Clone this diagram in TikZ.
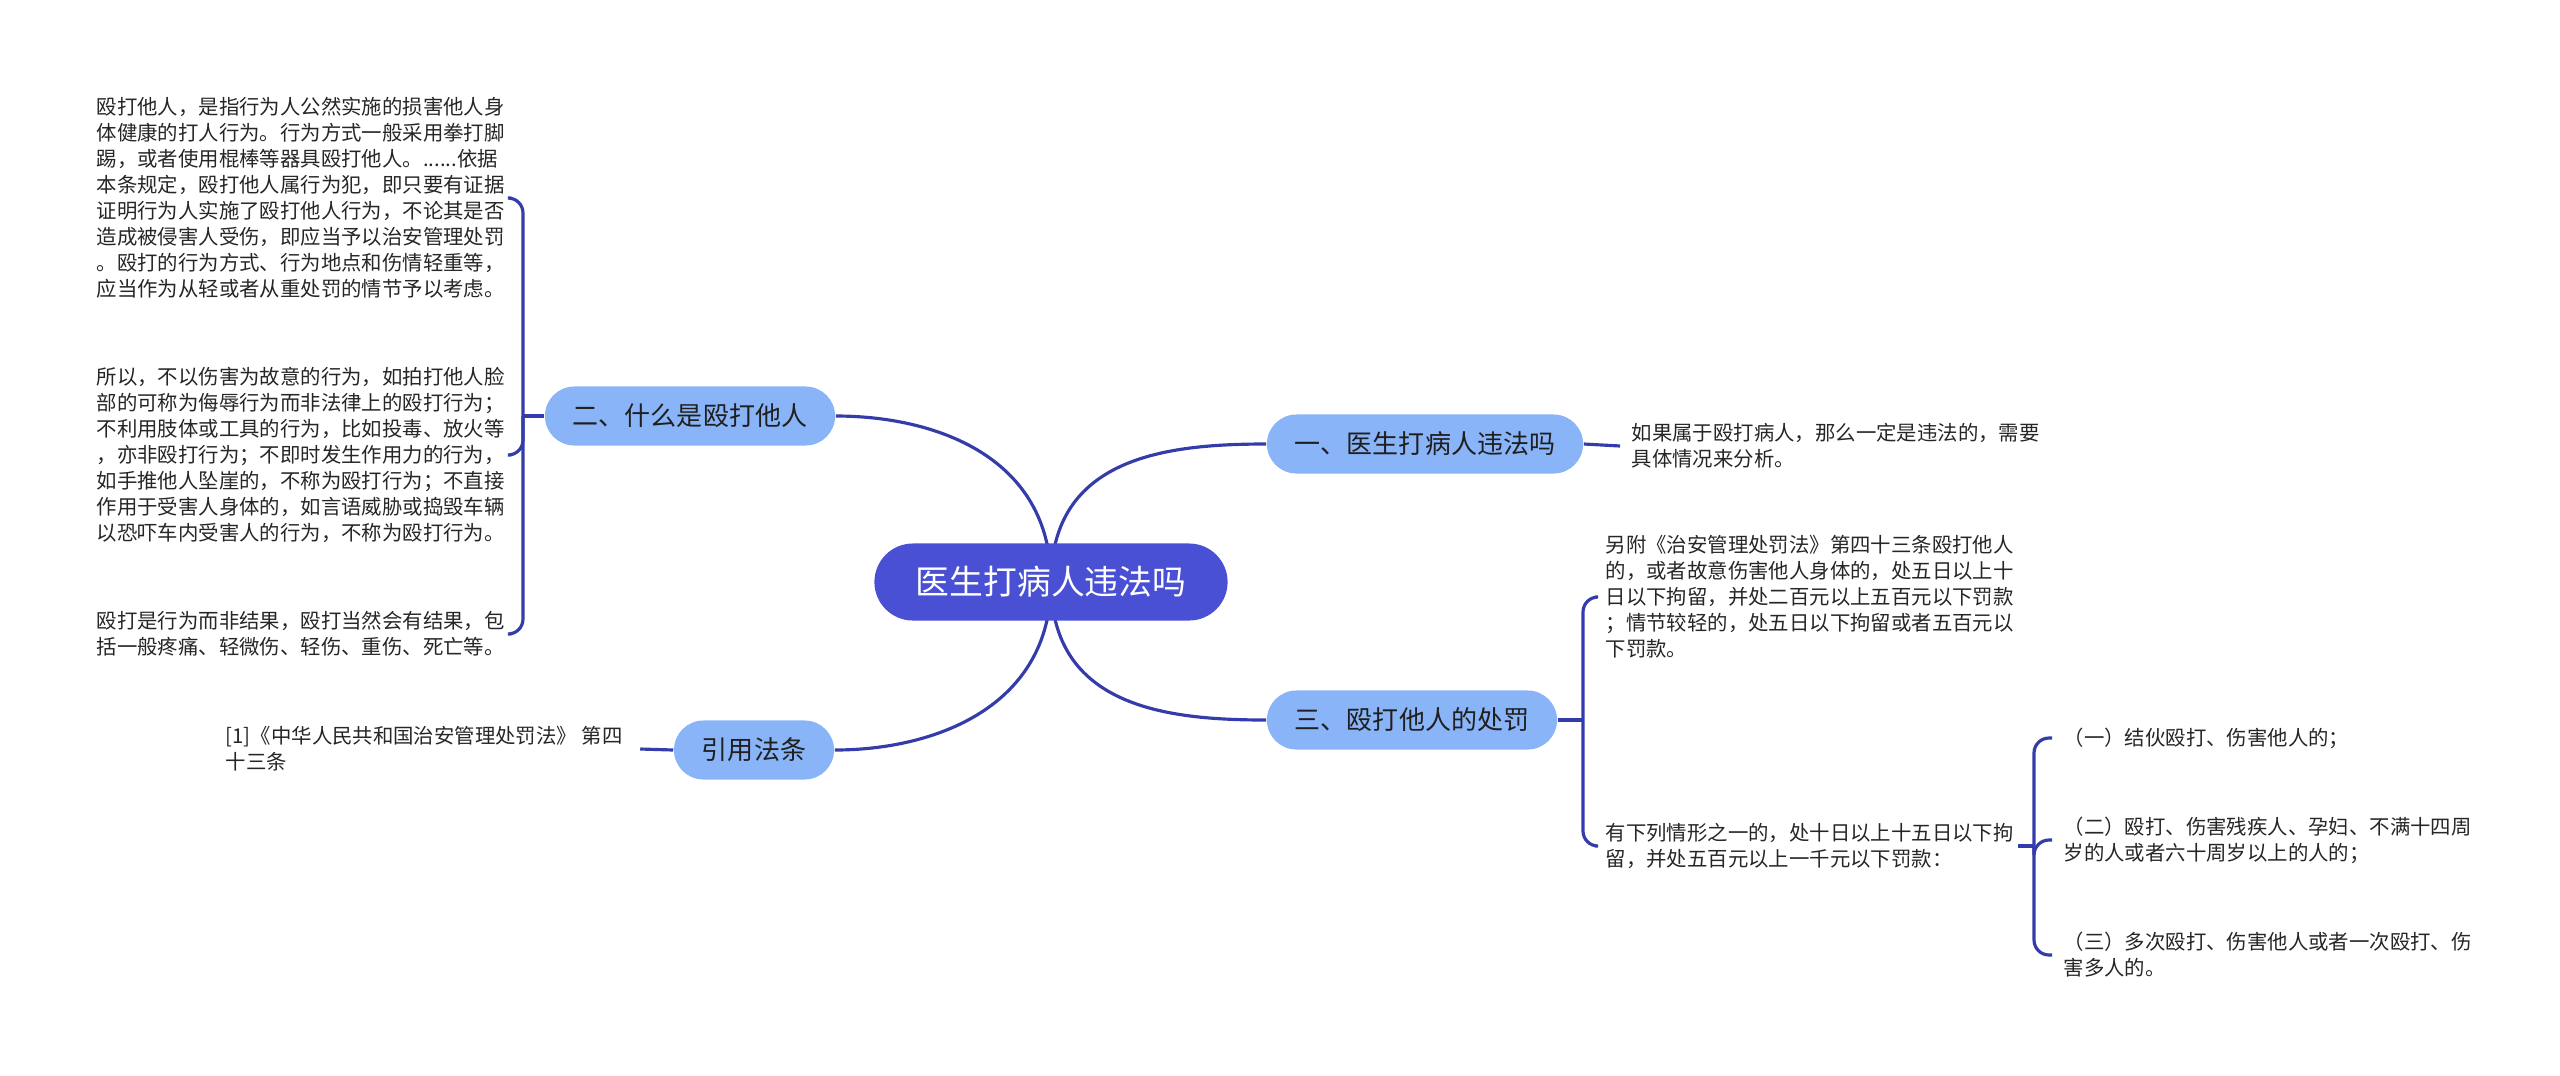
\documentclass[tikz,border=0pt]{standalone}
\usepackage{fontspec}
\setmainfont{Noto Sans CJK SC}
\usetikzlibrary{backgrounds}
\definecolor{hubblue}{RGB}{74,80,212}
\definecolor{topicblue}{RGB}{138,180,248}
\definecolor{lineblue}{RGB}{52,60,170}
\definecolor{notegray}{RGB}{38,38,38}

\begin{document}
\begin{tikzpicture}[x=0.01cm, y=-0.01cm,
  hub/.style={fill=hubblue, text=white, rounded corners=0.385cm, minimum height=0.77cm,
              minimum width=3.53cm, inner sep=0pt, font=\fontsize{9.6pt}{11pt}\selectfont},
  topic/.style={fill=topicblue, text=black!88, rounded corners=0.295cm, minimum height=0.59cm,
                inner xsep=0.28cm, inner ysep=0pt, font=\fontsize{7.4pt}{9pt}\selectfont},
  note/.style={anchor=west, align=left, inner sep=0pt, text=notegray,
               font=\fontsize{5.8pt}{7.4pt}\selectfont},
  ln/.style={draw=lineblue, line width=0.9pt},
  hook/.style={ln, rounded corners=0.15cm}]
\useasboundingbox (0,0) rectangle (2560,1075);
\node[hub] (root) at (1051,582) {医生打病人违法吗};
\node[topic] (t1) at (1425,444) {一、医生打病人违法吗};
\node[topic] (t2) at (690,416) {二、什么是殴打他人};
\node[topic] (t3) at (1412,720) {三、殴打他人的处罚};
\node[topic] (t4) at (754,750) {引用法条};
% left side
\node[note] (n1) at (96,198) {殴打他人，是指行为人公然实施的损害他人身\\体健康的打人行为。行为方式一般采用拳打脚\\踢，或者使用棍棒等器具殴打他人。......依据\\本条规定，殴打他人属行为犯，即只要有证据\\证明行为人实施了殴打他人行为，不论其是否\\造成被侵害人受伤，即应当予以治安管理处罚\\。殴打的行为方式、行为地点和伤情轻重等，\\应当作为从轻或者从重处罚的情节予以考虑。};
\node[note] (n2) at (96,455) {所以，不以伤害为故意的行为，如拍打他人脸\\部的可称为侮辱行为而非法律上的殴打行为；\\不利用肢体或工具的行为，比如投毒、放火等\\，亦非殴打行为；不即时发生作用力的行为，\\如手推他人坠崖的，不称为殴打行为；不直接\\作用于受害人身体的，如言语威胁或捣毁车辆\\以恐吓车内受害人的行为，不称为殴打行为。};
\node[note] (n3) at (96,634) {殴打是行为而非结果，殴打当然会有结果，包\\括一般疼痛、轻微伤、轻伤、重伤、死亡等。};
\node[note] (n4) at (225,749) {[1]《中华人民共和国治安管理处罚法》 第四\\十三条};
% right side
\node[note] (n5) at (1631,446) {如果属于殴打病人，那么一定是违法的，需要\\具体情况来分析。};
\node[note] (n6) at (1605,597) {另附《治安管理处罚法》第四十三条殴打他人\\的，或者故意伤害他人身体的，处五日以上十\\日以下拘留，并处二百元以上五百元以下罚款\\；情节较轻的，处五日以下拘留或者五百元以\\下罚款。};
\node[note] (n7) at (1605,846) {有下列情形之一的，处十日以上十五日以下拘\\留，并处五百元以上一千元以下罚款：};
\node[note] (s1) at (2063,738) {（一）结伙殴打、伤害他人的；};
\node[note] (s2) at (2063,840) {（二）殴打、伤害残疾人、孕妇、不满十四周\\岁的人或者六十周岁以上的人的；};
\node[note] (s3) at (2063,955) {（三）多次殴打、伤害他人或者一次殴打、伤\\害多人的。};
\coordinate (j2) at (523,416);
\coordinate (j3) at (1583,720);
\coordinate (j7) at (2034,846);
\begin{scope}[on background layer]
\draw[ln] (root.center) .. controls +(0,-125) and +(-100,0) .. (t1.west);
\draw[ln] (root.center) .. controls +(0,-125) and +(100,0) .. (t2.east);
\draw[ln] (root.center) .. controls +(0,125) and +(-100,0) .. (t3.west);
\draw[ln] (root.center) .. controls +(0,125) and +(100,0) .. (t4.east);
\end{scope}
\draw[ln] (t1.east) -- ([xshift=-0.11cm]n5.west);
\draw[ln] (t4.west) -- ([xshift=0.17cm]n4.east);
\draw[ln] (t2.west) -- (j2);
\foreach \n in {n1,n2,n3}
  \draw[hook] (j2) |- ([xshift=0.06cm]\n.east);
\draw[ln] (t3.east) -- (j3);
\foreach \n in {n6,n7}
  \draw[hook] (j3) |- ([xshift=-0.1cm]\n.west);
\draw[ln] ([xshift=0.04cm]n7.east) -- (j7);
\foreach \n in {s1,s2,s3}
  \draw[hook] (j7) |- ([xshift=-0.11cm]\n.west);
\end{tikzpicture}
\end{document}
